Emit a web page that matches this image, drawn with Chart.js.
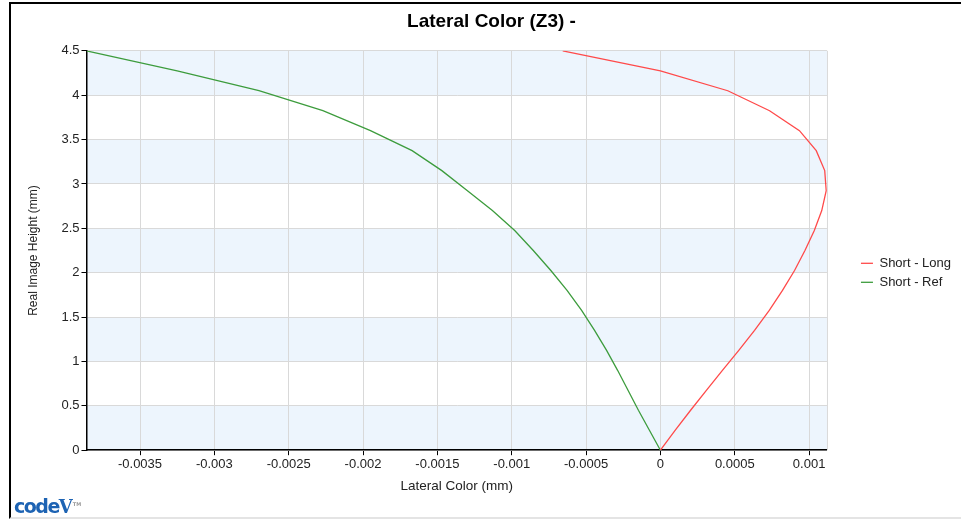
<!DOCTYPE html>
<html>
<head>
<meta charset="utf-8">
<script src="https://cdn.jsdelivr.net/npm/chart.js@4.4.0/dist/chart.umd.min.js"></script>
<style>
  html, body { margin: 0; padding: 0; background: #fff; }
  #frame {
    position: absolute; left: 9px; top: 2px; width: 952px; height: 517px;
    border-top: 2px solid #000; border-left: 2px solid #000; border-bottom: 2px solid #e4e4e4;
    box-sizing: border-box;
  }
  #wrap { position: absolute; left: 0; top: 0; width: 950px; height: 513px; }
  #logo {
    position: absolute; left: 3px; top: 490px; color: #1d63b3;
    font-family: "DejaVu Sans", sans-serif; font-weight: bold; font-size: 19px;
    letter-spacing: -1.5px; line-height: 20px; white-space: nowrap;
  }
  #logo .v { font-family: "DejaVu Serif", serif; font-size: 18px; letter-spacing: 0; }
  #logo sup { font-size: 5px; color: #999; letter-spacing: 0; }
</style>
</head>
<body>
<div id="frame">
  <div id="wrap"><canvas id="chart"></canvas></div>
  <div id="logo">code<span class="v">V</span><sup>TM</sup></div>
</div>
<script>
// Real image height (mm), the same sample heights for both curves
var heightY = [0, 0.225, 0.45, 0.675, 0.9, 1.125, 1.35, 1.575, 1.8, 2.025, 2.25, 2.475, 2.7, 2.925, 3.15, 3.375, 3.6, 3.825, 4.05, 4.275, 4.5];

// Short - Long lateral color (mm)
var longX = [0, 0.0001, 0.000203, 0.000309, 0.000417, 0.000527, 0.000633, 0.000732, 0.000821, 0.000902, 0.000972, 0.001035, 0.001085, 0.001115, 0.001105, 0.001048, 0.000935, 0.000734, 0.000453, 0, -0.000657];

// Short - Ref lateral color (mm)
var refX = [0, -0.000074, -0.000148, -0.000218, -0.000288, -0.000362, -0.000443, -0.00053, -0.000628, -0.000737, -0.000855, -0.00098, -0.00113, -0.0013, -0.00147, -0.00167, -0.00195, -0.00227, -0.0027, -0.00325, -0.00386];

var xMin = -0.00386, xMax = 0.00112, xStep = 0.0005;
var yMin = 0, yMax = 4.5, yStep = 0.5;

function toPoints(xs, ys) {
  var pts = [];
  for (var i = 0; i < xs.length; i++) pts.push({ x: xs[i], y: ys[i] });
  return pts;
}

// alternating light blue bands behind the grid
var bandPlugin = {
  id: "bands",
  beforeDraw: function(chart) {
    var c = chart.ctx, a = chart.chartArea, y = chart.scales.y;
    c.save();
    c.fillStyle = "#edf5fd";
    for (var v = yMax; v > yMin; v -= 2 * yStep) {
      var top = y.getPixelForValue(v), bot = y.getPixelForValue(v - yStep);
      c.fillRect(a.left, top, a.right - a.left, bot - top);
    }
    c.strokeStyle = "#d9d9d9";
    c.lineWidth = 1;
    c.beginPath();
    c.moveTo(a.right + 0.5, a.top);
    c.lineTo(a.right + 0.5, a.bottom);
    c.stroke();
    c.restore();
  }
};

Chart.defaults.font.family = "'Liberation Sans', Arial, sans-serif";
Chart.defaults.font.size = 13;
Chart.defaults.color = "#222";

new Chart(document.getElementById("chart"), {
  type: "line",
  data: {
    datasets: [
      {
        label: "Short - Long",
        data: toPoints(longX, heightY),
        borderColor: "#ff4a4a",
        borderWidth: 1.3,
        pointRadius: 0,
        tension: 0,
        fill: false
      },
      {
        label: "Short - Ref",
        data: toPoints(refX, heightY),
        borderColor: "#3d9c3d",
        borderWidth: 1.3,
        pointRadius: 0,
        tension: 0,
        fill: false
      }
    ]
  },
  options: {
    responsive: true,
    maintainAspectRatio: false,
    animation: false,
    layout: { padding: { left: 11, right: 0, top: 2, bottom: 19 } },
    plugins: {
      title: {
        display: true,
        text: "Lateral Color (Z3) -",
        color: "#000",
        font: { size: 19, weight: "bold" },
        padding: { top: 4, bottom: 18 }
      },
      legend: {
        position: "right",
        align: "center",
        title: { display: true, text: " ", padding: { top: 12, bottom: 14 } },
        labels: {
          usePointStyle: true,
          pointStyle: "line",
          pointStyleWidth: 12,
          boxHeight: 1,
          padding: 6,
          color: "#222",
          font: { size: 13 }
        }
      },
      tooltip: { enabled: false }
    },
    scales: {
      x: {
        type: "linear",
        min: xMin,
        max: xMax,
        title: { display: true, text: "Lateral Color (mm)", color: "#222", font: { size: 13.5 }, padding: { top: 5, bottom: 4 } },
        ticks: {
          stepSize: xStep,
          includeBounds: false,
          color: "#222",
          padding: 1,
          callback: function(value) { return String(+value.toFixed(4)); }
        },
        grid: { color: "#d9d9d9", tickColor: "#000", tickLength: 5 },
        border: { color: "#000", width: 1.5 }
      },
      y: {
        type: "linear",
        min: yMin,
        max: yMax,
        title: { display: true, text: "Real Image Height (mm)", color: "#222", font: { size: 12 }, padding: { top: 4, bottom: 19 } },
        ticks: {
          stepSize: yStep,
          color: "#222",
          padding: 2,
          callback: function(value) { return String(value); }
        },
        grid: { color: "#d9d9d9", tickColor: "#000", tickLength: 5 },
        border: { color: "#000", width: 1.5 }
      },
      // empty spacer between the plot and the legend
      gap: {
        type: "linear",
        position: "right",
        display: true,
        ticks: { display: false },
        grid: { display: false, drawTicks: false },
        border: { display: false },
        afterFit: function(scale) { scale.width = 28; }
      }
    }
  },
  plugins: [bandPlugin]
});
</script>
</body>
</html>
